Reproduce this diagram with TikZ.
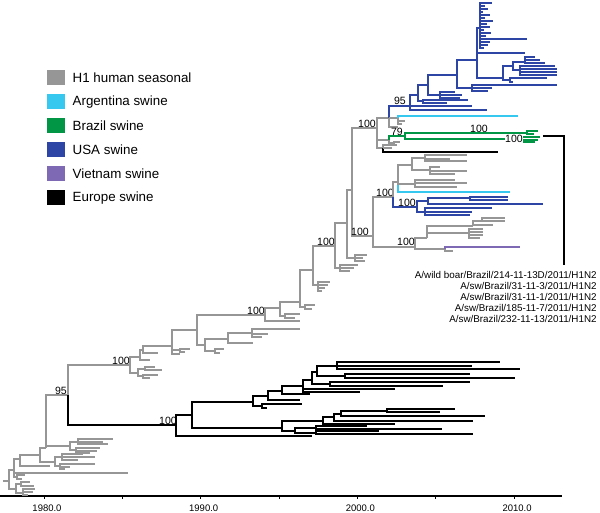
\documentclass[tikz,border=0pt]{standalone}
\usepackage{fontspec}
\setmainfont{Liberation Sans}
\usetikzlibrary{positioning}

\definecolor{hsgray}{RGB}{150,150,150}
\definecolor{argcyan}{RGB}{55,200,240}
\definecolor{brgreen}{RGB}{0,150,70}
\definecolor{usablue}{RGB}{45,70,165}
\definecolor{vnpurple}{RGB}{125,105,180}

\tikzset{
  hs/.style={draw=hsgray,line width=0.85pt},
  ar/.style={draw=argcyan,line width=0.85pt},
  bz/.style={draw=brgreen,line width=0.85pt},
  us/.style={draw=usablue,line width=0.85pt},
  vn/.style={draw=vnpurple,line width=0.85pt},
  eu/.style={draw=black,line width=0.95pt},
  boot/.style={font=\fontsize{6}{7}\selectfont,inner sep=0pt},
  legsq/.style={minimum width=3.6mm,minimum height=3mm,inner sep=0pt},
  legtxt/.style={font=\fontsize{7.6}{9}\selectfont,inner sep=0pt,anchor=west},
  strain/.style={font=\fontsize{5.6}{6.5}\selectfont,inner sep=0pt,anchor=east},
  yr/.style={font=\fontsize{5.4}{6}\selectfont,inner sep=0pt}
}
% leaves (y/xend pairs) hanging off one parent at (#2,#3)
\newcommand\twigs[4]{\foreach \ly/\lx in {#4}{\draw[#1] (#2,#3) |- (\lx,\ly);}}

\begin{document}
\begin{tikzpicture}[x=0.02cm,y=-0.02cm]
\useasboundingbox (0,0) rectangle (600,513);

% legend
\foreach \c/\t [count=\i] in {hsgray/H1 human seasonal,argcyan/Argentina swine,brgreen/Brazil swine,usablue/USA swine,vnpurple/Vietnam swine,black/Europe swine}{
  \node[legsq,fill=\c] (lg\i) at (56,54+24*\i) {};
  \node[legtxt,right=1.4mm of lg\i] (lt\i) {\t};
}

% time axis
\draw[line width=0.6pt] (0,496) -- (562,496);
\foreach \k in {0,...,6} \draw[line width=0.5pt] (44+78.35*\k,496) -- ++(0,3);
\foreach \yl [count=\k from 0] in {1980.0,1990.0,2000.0,2010.0} \node[yr] at (47+156.7*\k,508) {\yl};

% base of the tree
\coordinate (r0) at (3,481);
\coordinate (r) at (9,481);
\coordinate (a1) at (14,470);
\coordinate (b1) at (16,489);
\coordinate (a2) at (20,459);
\coordinate (a3) at (40,455);
\coordinate (c1) at (55,462);
\coordinate (a4) at (46,448);
\coordinate (c2) at (70,446);
\coordinate (n95) at (68,395);
\coordinate (n100a) at (130,365);
\coordinate (e0) at (176,425);
\draw[hs] (r0) -- (r);
\draw[hs] (r) |- (a1); \draw[hs] (r) |- (b1);
\twigs{hs}{16}{489}{484/21,493/23}
\twigs{hs}{21}{484}{482/30,486/34}
\twigs{hs}{23}{493}{489/35,492/33,495/28}
\draw[hs] (a1) |- (128,473);
\twigs{hs}{14}{470}{477/17}
\twigs{hs}{17}{477}{475/25,479/22}
\draw[hs] (a1) |- (a2);
\draw[hs] (a2) |- (50,466);
\draw[hs] (a2) |- (a3);
\draw[hs] (a3) |- (c1);
\draw[hs] (a3) |- (a4);
\twigs{hs}{55}{462}{457/62,466/60}
\twigs{hs}{62}{457}{454/83,457/95,460/78}
\twigs{hs}{60}{466}{464/95,467/70,469/65}
\draw[hs] (a4) |- (c2);
\twigs{hs}{70}{446}{442/78,450/76}
\twigs{hs}{78}{442}{439/113,442/103,444/108}
\twigs{hs}{76}{450}{448/100,451/97,453/90}
\draw[hs] (a4) |- (n95);
\node[boot] at (61,391) {95};
\draw[hs] (n95) |- (n100a);
\draw[eu] (n95) |- (e0);

% Europe swine
\coordinate (e1) at (192,415);
\coordinate (e2) at (253,402);
\coordinate (e3) at (282,428);
\node[boot] at (168,421) {100};
\draw[eu] (e0) |- (e1); \draw[eu] (e0) |- (312,436);
\draw[eu] (e1) |- (e2); \draw[eu] (e1) |- (e3);
\twigs{eu}{253}{402}{406/262,396/268}
\twigs{eu}{262}{406}{404/302,408/267}
\twigs{eu}{268}{396}{391/282,400/300}
\twigs{eu}{282}{391}{386/303,394/310}
\twigs{eu}{303}{386}{380/312,389/395,392/360}
\twigs{eu}{312}{380}{372/317,384/330}
\twigs{eu}{330}{384}{382/470,386/443}
\twigs{eu}{317}{372}{366/337,376/345}
\twigs{eu}{337}{366}{362/500,366/472,369/520}
\twigs{eu}{345}{376}{374/470,378/515}
\twigs{eu}{282}{428}{421/323,431/295}
\twigs{eu}{323}{421}{417/334,424/395}
\twigs{eu}{334}{417}{414/341,421/473}
\twigs{eu}{341}{414}{411/387,416/485}
\twigs{eu}{387}{411}{409/455,412/440}
\twigs{eu}{295}{431}{428/316,433/316}
\twigs{eu}{316}{428}{426/367,429/442}
\twigs{eu}{316}{433}{431/379,434/473}

% human seasonal backbone
\coordinate (g2) at (140,357);
\coordinate (g3) at (143,350);
\coordinate (g4) at (172,346);
\coordinate (g6) at (197,330);
\coordinate (n100b) at (265,315);
\coordinate (g7) at (205,345);
\coordinate (g8) at (228,339);
\coordinate (g9) at (252,333);
\node[boot] at (121,361) {100};
\twigs{hs}{130}{365}{373/138}
\twigs{hs}{138}{373}{369/145,376/143}
\twigs{hs}{145}{369}{367/155,370/162}
\twigs{hs}{143}{376}{375/158,378/150}
\draw[hs] (n100a) |- (g2);
\draw[hs] (g2) |- (150,360);
\draw[hs] (g2) |- (g3);
\draw[hs] (g3) |- (158,353);
\draw[hs] (g3) |- (g4);
\twigs{hs}{172}{346}{350/180,354/180}
\twigs{hs}{180}{350}{349/190,352/185}
\draw[hs] (g4) |- (g6);
\draw[hs] (g6) |- (n100b);
\draw[hs] (g6) |- (g7);
\twigs{hs}{205}{345}{351/215}
\twigs{hs}{215}{351}{349/224,353/220}
\draw[hs] (g7) |- (g8);
\draw[hs] (g8) |- (253,343);
\draw[hs] (g8) |- (g9);
\twigs{hs}{252}{333}{329/300,334/268,337/262}
\node[boot] at (256,311) {100};
\coordinate (g10) at (280,308);
\coordinate (g11) at (300,302);
\coordinate (g12) at (313,270);
\coordinate (n100c) at (335,246);
\coordinate (x2) at (347,223);
\coordinate (x1) at (352,190);
\coordinate (n100d) at (377,128);
\coordinate (n100e) at (373,236);
\draw[hs] (n100b) |- (g10);
\twigs{hs}{265}{315}{321/300}
\draw[hs] (g10) |- (g11);
\twigs{hs}{280}{308}{316/285}
\twigs{hs}{285}{316}{314/300,318/295}
\draw[hs] (g11) |- (g12);
\twigs{hs}{300}{302}{307/305}
\twigs{hs}{305}{307}{305/315,309/312}
\draw[hs] (g12) |- (n100c);
\twigs{hs}{313}{270}{285/318}
\twigs{hs}{318}{285}{282/330,285/328,288/325,291/322}
\node[boot] at (326,242) {100};
\draw[hs] (n100c) |- (x2);
\twigs{hs}{335}{246}{268/340}
\twigs{hs}{340}{268}{265/358,268/354,271/350}
\draw[hs] (x2) |- (x1);
\twigs{hs}{347}{223}{258/355}
\twigs{hs}{355}{258}{255/367,258/363,261/365}
\draw[hs] (x1) |- (n100d);
\draw[hs] (x1) |- (n100e);

% Argentina, USA and Vietnam swine below the Brazil clade
\coordinate (n100f) at (393,197);
\coordinate (n100g) at (415,247);
\coordinate (g20) at (398,182);
\coordinate (n100h) at (417,207);
\coordinate (g30) at (427,238);
\node[boot] at (360,232) {100};
\draw[hs] (n100e) |- (n100f);
\draw[hs] (n100e) |- (n100g);
\node[boot] at (385,193) {100};
\draw[hs] (n100f) |- (g20);
\draw[us] (n100f) |- (n100h);
\draw[ar] (g20) |- (510,192);
\twigs{hs}{398}{182}{165/412,184/415}
\twigs{hs}{412}{165}{158/425,170/430}
\twigs{hs}{425}{158}{155/467,159/450,161/467}
\twigs{hs}{430}{170}{167/440,171/467,174/455}
\twigs{hs}{415}{184}{180/455,183/467,187/457}
\node[boot] at (407,203) {100};
\twigs{us}{417}{207}{201/428,212/425}
\twigs{us}{428}{201}{198/470,204/543}
\twigs{us}{470}{198}{197/508,200/508}
\twigs{us}{425}{212}{208/492,212/472,215/470}
\node[boot] at (406,242) {100};
\draw[hs] (n100g) |- (g30);
\draw[hs] (n100g) |- (445,249);
\draw[vn] (445,249) |- (520,247);
\twigs{hs}{445}{249}{251/453}
\twigs{hs}{427}{238}{233/469,226/473}
\twigs{hs}{469}{233}{229/483,232/483,235/483,238/480}
\twigs{hs}{473}{226}{221/482,225/493}
\twigs{hs}{482}{221}{218/505,221/505}

% Brazil, Argentina and USA swine on top
\coordinate (y1) at (389,118);
\coordinate (g79) at (389,140);
\coordinate (y3) at (383,148);
\coordinate (b95) at (410,106);
\coordinate (n100gr) at (405,136);
\node[boot] at (367,124) {100};
\draw[hs] (n100d) |- (y1);
\draw[hs] (n100d) |- (g79);
\draw[hs] (n100d) |- (y3);
\draw[us] (y1) |- (b95);
\node[boot] at (400,101) {95};
\draw[hs] (y1) |- (398,118);
\draw[ar] (398,118) |- (518,116);
\twigs{hs}{398}{118}{121/405,124/402}
\twigs{hs}{389}{118}{127/398}
\draw[bz] (g79) |- (n100gr);
\node[boot] at (397,132) {79};
\twigs{hs}{389}{140}{143/394}
\twigs{hs}{394}{143}{142/400,145/397}
\draw[eu] (y3) |- (498,152);
\twigs{hs}{383}{148}{145/395,148/392}
\twigs{bz}{405}{136}{133/527,139/522}
\twigs{bz}{527}{133}{131/538,134/534}
\twigs{bz}{522}{139}{137/540,140/538,142/535}
\node[boot] at (479,129) {100};
\node[boot,fill=white,inner sep=0.3pt] at (514,139) {100};

\coordinate (bb1) at (418,95);
\coordinate (bb2) at (428,85);
\coordinate (bb3) at (457,75);
\coordinate (bb4) at (477,60);
\coordinate (bb5) at (503,78);
\draw[us] (b95) |- (487,110);
\draw[us] (b95) |- (472,106);
\draw[us] (b95) |- (bb1);
\twigs{us}{418}{95}{101/423}
\twigs{us}{423}{101}{100/468,103/447}
\draw[us] (bb1) |- (bb2);
\twigs{us}{428}{85}{95/440}
\twigs{us}{440}{95}{92/455,95/462,98/460}
\draw[us] (bb2) |- (bb3);
\twigs{us}{457}{75}{88/472}
\twigs{us}{472}{88}{85/557,88/492,91/488}
\draw[us] (bb3) |- (bb4);
\draw[us] (bb4) |- (bb5);
\draw[us] (bb4) |- (525,53);
\twigs{us}{477}{60}{28/480}
\twigs{us}{480}{28}{3/492,6/485,9/488,12/483,15/490,18/485,21/493,24/487,27/490,30/484,33/491,36/486,39/527,42/490,45/488,48/484}
\twigs{us}{503}{78}{66/513,80/510}
\twigs{us}{513}{66}{62/525,70/520}
\twigs{us}{525}{62}{57/535,60/540,63/545}
\twigs{us}{520}{70}{66/555,69/557,72/557,75/557}
\twigs{us}{510}{80}{78/547,82/513}

% Brazil strains
\draw[line width=0.6pt] (543,136) -| (564,265);
\foreach \s [count=\i from 0] in {A/wild boar/Brazil/214-11-13D/2011/H1N2,A/sw/Brazil/31-11-3/2011/H1N2,A/sw/Brazil/31-11-1/2011/H1N2,A/sw/Brazil/185-11-7/2011/H1N2,A/sw/Brazil/232-11-13/2011/H1N2}
  \node[strain] (s\i) at (597,275+11*\i) {\s};
\end{tikzpicture}
\end{document}
